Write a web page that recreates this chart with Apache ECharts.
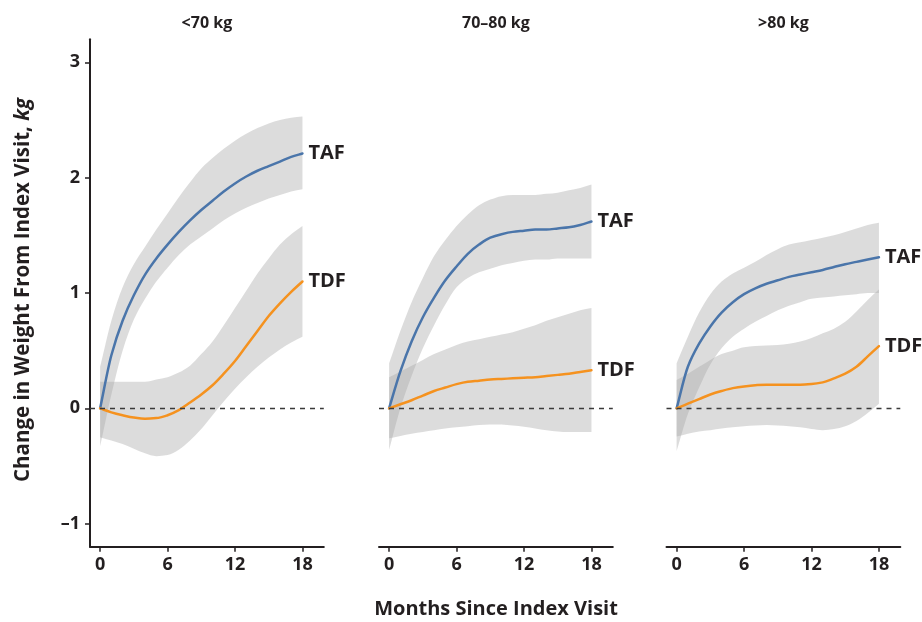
<!DOCTYPE html>
<html>
<head>
<meta charset="utf-8">
<script src="https://cdn.jsdelivr.net/npm/echarts@6/dist/echarts.min.js"></script>
<style>
  html, body { margin: 0; padding: 0; background: #fff; }
  #chart { width: 922px; height: 622px; }
</style>
</head>
<body>
<div id="chart"></div>
<script>
// Months since index visit (shared x values for every curve)
const months = [0, 1, 2, 3, 4, 5, 6, 7, 8, 9, 10, 11, 12, 13, 14, 15, 16, 17, 18];
const xTicks = [0, 6, 12, 18];
const yTicks = [-1, 0, 1, 2, 3];
const panelTitles = ['<70 kg', '70\u201380 kg', '>80 kg'];

// <70 kg
const taf1   = [0, 0.46, 0.76, 0.98, 1.16, 1.30, 1.42, 1.53, 1.63, 1.72, 1.80, 1.88, 1.95, 2.01, 2.06, 2.10, 2.14, 2.18, 2.21];
const taf1Lo = [-0.33, 0.12, 0.50, 0.77, 0.95, 1.10, 1.22, 1.33, 1.42, 1.49, 1.56, 1.63, 1.69, 1.74, 1.78, 1.82, 1.85, 1.88, 1.90];
const taf1Hi = [0.36, 0.76, 1.05, 1.25, 1.40, 1.55, 1.69, 1.83, 1.96, 2.08, 2.17, 2.25, 2.32, 2.38, 2.43, 2.47, 2.50, 2.52, 2.53];
const tdf1   = [0, -0.035, -0.06, -0.08, -0.09, -0.085, -0.06, -0.015, 0.05, 0.12, 0.20, 0.30, 0.41, 0.54, 0.67, 0.80, 0.91, 1.01, 1.10];
const tdf1Lo = [-0.25, -0.28, -0.31, -0.35, -0.39, -0.415, -0.405, -0.36, -0.28, -0.18, -0.06, 0.06, 0.17, 0.27, 0.36, 0.44, 0.51, 0.57, 0.62];
const tdf1Hi = [0.23, 0.23, 0.23, 0.23, 0.23, 0.25, 0.27, 0.31, 0.37, 0.47, 0.58, 0.72, 0.87, 1.02, 1.17, 1.30, 1.42, 1.51, 1.58];

// 70–80 kg
const taf2   = [0, 0.32, 0.58, 0.79, 0.96, 1.11, 1.23, 1.34, 1.42, 1.48, 1.51, 1.53, 1.54, 1.55, 1.55, 1.56, 1.57, 1.59, 1.62];
const taf2Lo = [-0.36, 0.0, 0.28, 0.52, 0.72, 0.90, 1.05, 1.13, 1.18, 1.21, 1.24, 1.26, 1.28, 1.29, 1.29, 1.30, 1.30, 1.30, 1.30];
const taf2Hi = [0.39, 0.67, 0.92, 1.13, 1.32, 1.46, 1.58, 1.68, 1.76, 1.81, 1.84, 1.85, 1.85, 1.85, 1.86, 1.87, 1.89, 1.91, 1.94];
const tdf2   = [0, 0.035, 0.07, 0.11, 0.15, 0.18, 0.21, 0.23, 0.24, 0.25, 0.255, 0.26, 0.265, 0.27, 0.28, 0.29, 0.30, 0.315, 0.33];
const tdf2Lo = [-0.26, -0.24, -0.22, -0.205, -0.19, -0.175, -0.165, -0.155, -0.145, -0.14, -0.14, -0.15, -0.16, -0.175, -0.19, -0.20, -0.205, -0.205, -0.205];
const tdf2Hi = [0.27, 0.32, 0.37, 0.42, 0.47, 0.51, 0.55, 0.58, 0.60, 0.62, 0.64, 0.66, 0.69, 0.72, 0.76, 0.79, 0.82, 0.85, 0.87];

// >80 kg
const taf3   = [0, 0.36, 0.56, 0.71, 0.83, 0.92, 0.99, 1.04, 1.08, 1.11, 1.14, 1.16, 1.18, 1.20, 1.225, 1.25, 1.27, 1.29, 1.31];
const taf3Lo = [-0.37, -0.05, 0.18, 0.38, 0.52, 0.62, 0.69, 0.75, 0.80, 0.85, 0.89, 0.92, 0.95, 0.96, 0.97, 0.98, 0.99, 1.0, 1.0];
const taf3Hi = [0.39, 0.62, 0.83, 0.99, 1.10, 1.17, 1.22, 1.27, 1.33, 1.38, 1.42, 1.44, 1.46, 1.48, 1.50, 1.53, 1.56, 1.59, 1.61];
const tdf3   = [0, 0.04, 0.08, 0.12, 0.15, 0.175, 0.19, 0.20, 0.205, 0.205, 0.205, 0.205, 0.21, 0.225, 0.26, 0.30, 0.36, 0.45, 0.54];
const tdf3Lo = [-0.245, -0.22, -0.20, -0.19, -0.175, -0.165, -0.155, -0.15, -0.145, -0.15, -0.155, -0.165, -0.18, -0.19, -0.18, -0.155, -0.11, -0.04, 0.04];
const tdf3Hi = [0.245, 0.30, 0.36, 0.42, 0.47, 0.50, 0.53, 0.54, 0.545, 0.55, 0.56, 0.58, 0.61, 0.65, 0.69, 0.75, 0.84, 0.94, 1.03];

const panels = [
  { taf: taf1, tafLo: taf1Lo, tafHi: taf1Hi, tdf: tdf1, tdfLo: tdf1Lo, tdfHi: tdf1Hi },
  { taf: taf2, tafLo: taf2Lo, tafHi: taf2Hi, tdf: tdf2, tdfLo: tdf2Lo, tdfHi: tdf2Hi },
  { taf: taf3, tafLo: taf3Lo, tafHi: taf3Hi, tdf: tdf3, tdfLo: tdf3Lo, tdfHi: tdf3Hi }
];

const INK = '#231f20';
const FONT = '"Open Sans", "Noto Sans", sans-serif';
const BLUE = '#4a75aa';
const ORANGE = '#f5921f';
const BAND = 'rgba(168,168,168,0.40)';

const gridLefts = [90, 379, 666.5];
const GRID_W = 233.8;
const GRID_TOP = 39.3;
const GRID_H = 507.4;

// Monotone cubic tangents (Fritsch–Carlson) in pixel space
function monoTangents(p) {
  const n = p.length, d = [], m = [];
  for (let i = 0; i < n - 1; i++) {
    d[i] = p[i + 1][0] - p[i][0];
    m[i] = (p[i + 1][1] - p[i][1]) / d[i];
  }
  const t = [m[0]];
  for (let i = 1; i < n - 1; i++) {
    if (m[i - 1] * m[i] <= 0) t[i] = 0;
    else t[i] = 3 * (d[i - 1] + d[i]) / ((2 * d[i] + d[i - 1]) / m[i - 1] + (d[i] + 2 * d[i - 1]) / m[i]);
  }
  t[n - 1] = m[n - 2];
  return t;
}

function f(v) { return v.toFixed(2); }

// Cubic segments following the points left to right (or right to left)
function curveCmds(p, reverse) {
  const t = monoTangents(p);
  const n = p.length;
  let s = '';
  if (!reverse) {
    for (let i = 0; i < n - 1; i++) {
      const dx = p[i + 1][0] - p[i][0];
      s += ' C' + f(p[i][0] + dx / 3) + ',' + f(p[i][1] + t[i] * dx / 3) + ' ' +
           f(p[i + 1][0] - dx / 3) + ',' + f(p[i + 1][1] - t[i + 1] * dx / 3) + ' ' +
           f(p[i + 1][0]) + ',' + f(p[i + 1][1]);
    }
  } else {
    for (let i = n - 2; i >= 0; i--) {
      const dx = p[i + 1][0] - p[i][0];
      s += ' C' + f(p[i + 1][0] - dx / 3) + ',' + f(p[i + 1][1] - t[i + 1] * dx / 3) + ' ' +
           f(p[i][0] + dx / 3) + ',' + f(p[i][1] + t[i] * dx / 3) + ' ' +
           f(p[i][0]) + ',' + f(p[i][1]);
    }
  }
  return s;
}

function linePath(p) {
  return 'M' + f(p[0][0]) + ',' + f(p[0][1]) + curveCmds(p, false);
}

function bandPath(up, dn) {
  const n = dn.length;
  return 'M' + f(up[0][0]) + ',' + f(up[0][1]) + curveCmds(up, false) +
         ' L' + f(dn[n - 1][0]) + ',' + f(dn[n - 1][1]) + curveCmds(dn, true) + ' Z';
}

// Confidence band between lower and upper estimates
function bandSeries(idx, lo, hi) {
  return {
    type: 'custom',
    xAxisIndex: idx, yAxisIndex: idx,
    silent: true, z: 1,
    data: [[0, 0]],
    renderItem: function (params, api) {
      const up = months.map((m, i) => api.coord([m, hi[i]]));
      const dn = months.map((m, i) => api.coord([m, lo[i]]));
      return { type: 'path', shape: { pathData: bandPath(up, dn) }, style: { fill: BAND } };
    }
  };
}

// Mean curve with its name written past the last point
function curveSeries(idx, name, values, color) {
  return {
    type: 'custom', name: name,
    xAxisIndex: idx, yAxisIndex: idx,
    silent: true, z: 3,
    data: [[0, 0]],
    renderItem: function (params, api) {
      const pts = months.map((m, i) => api.coord([m, values[i]]));
      const end = pts[pts.length - 1];
      return {
        type: 'group',
        children: [
          {
            type: 'path',
            shape: { pathData: linePath(pts) },
            style: { fill: 'none', stroke: color, lineWidth: 2.5, lineCap: 'round', lineJoin: 'round' }
          },
          {
            type: 'text', x: end[0] + 6, y: end[1],
            style: {
              text: name, fill: INK, fontFamily: FONT, fontWeight: 'bold', fontSize: 20,
              align: 'left', verticalAlign: 'middle'
            }
          }
        ]
      };
    }
  };
}

// Dashed reference line at zero change
function zeroSeries(idx) {
  return {
    type: 'line', xAxisIndex: idx, yAxisIndex: idx,
    data: [], silent: true, z: 2,
    markLine: {
      silent: true, symbol: ['none', 'none'], label: { show: false },
      lineStyle: { color: '#3a3a3a', width: 1.3, type: [5, 5] },
      data: [{ yAxis: 0 }]
    }
  };
}

const grids = [], xAxes = [], yAxes = [], series = [], graphics = [];
panels.forEach((p, i) => {
  grids.push({ left: gridLefts[i], top: GRID_TOP, width: GRID_W, height: GRID_H });
  xAxes.push({
    type: 'value', gridIndex: i, min: -0.9, max: 19.9,
    axisLine: { show: true, onZero: false, lineStyle: { color: INK, width: 2 } },
    axisTick: { show: true, customValues: xTicks, length: 5, lineStyle: { color: INK, width: 1.5 } },
    axisLabel: { customValues: xTicks, margin: 9, color: INK, fontFamily: FONT, fontWeight: 'bold', fontSize: 18 },
    splitLine: { show: false }
  });
  yAxes.push({
    type: 'value', gridIndex: i, min: -1.2, max: 3.2, show: i === 0,
    axisLine: { show: true, onZero: false, lineStyle: { color: INK, width: 2 } },
    axisTick: { show: true, customValues: yTicks, length: 5, lineStyle: { color: INK, width: 1.5 } },
    axisLabel: {
      customValues: yTicks, margin: 10, color: INK, fontFamily: FONT, fontWeight: 'bold', fontSize: 18,
      formatter: v => (v < 0 ? '\u2013' + Math.abs(v) : String(v))
    },
    splitLine: { show: false }
  });
  series.push(bandSeries(i, p.tafLo, p.tafHi));
  series.push(bandSeries(i, p.tdfLo, p.tdfHi));
  series.push(zeroSeries(i));
  series.push(curveSeries(i, 'TAF', p.taf, BLUE));
  series.push(curveSeries(i, 'TDF', p.tdf, ORANGE));
  graphics.push({
    type: 'text', x: gridLefts[i] + GRID_W / 2, y: 23,
    style: {
      text: panelTitles[i], fill: INK, fontFamily: FONT, fontWeight: 'bold', fontSize: 16,
      align: 'center', verticalAlign: 'middle'
    }
  });
});

// Axis titles
graphics.push({
  type: 'text', x: 496, y: 609,
  style: {
    text: 'Months Since Index Visit', fill: INK, fontFamily: FONT, fontWeight: 'bold', fontSize: 20,
    align: 'center', verticalAlign: 'middle'
  }
});
graphics.push({
  type: 'text', x: 23, y: 290, rotation: Math.PI / 2,
  style: {
    text: '{a|Change in Weight From Index Visit, }{b|kg}',
    fill: INK, fontFamily: FONT, fontWeight: 'bold', fontSize: 20.5,
    align: 'center', verticalAlign: 'middle',
    rich: {
      a: { fill: INK, fontFamily: FONT, fontWeight: 'bold', fontSize: 20.5 },
      b: { fill: INK, fontFamily: FONT, fontWeight: 'bold', fontStyle: 'italic', fontSize: 20.5 }
    }
  }
});

const chart = echarts.init(document.getElementById('chart'), null, { renderer: 'canvas' });
chart.setOption({
  animation: false,
  backgroundColor: '#ffffff',
  grid: grids,
  xAxis: xAxes,
  yAxis: yAxes,
  series: series,
  graphic: graphics
});
</script>
</body>
</html>
